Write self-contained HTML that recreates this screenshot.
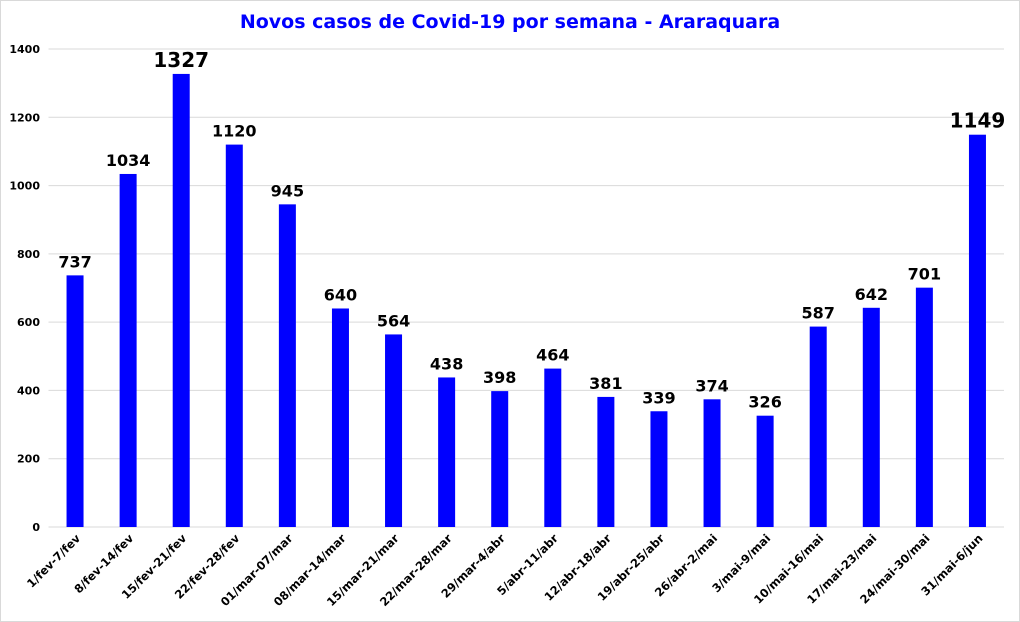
<!DOCTYPE html>
<html><head><meta charset="utf-8"><style>
html,body{margin:0;padding:0;background:#fff}
svg{display:block;font-family:"DejaVu Sans","Liberation Sans",sans-serif}
</style></head><body>
<svg id="chart" width="1020" height="622">
<rect x="0.5" y="0.5" width="1019" height="621" fill="#fff" stroke="#d9d9d9"/>
<text x="510" y="28" text-anchor="middle" font-size="19" font-weight="bold" fill="#0000ff">Novos casos de Covid-19 por semana - Araraquara</text>
<g id="grid"></g><g id="bars"></g><g id="xlabels"></g>
</svg>
<script>
const categories=["1/fev-7/fev","8/fev-14/fev","15/fev-21/fev","22/fev-28/fev","01/mar-07/mar","08/mar-14/mar","15/mar-21/mar","22/mar-28/mar","29/mar-4/abr","5/abr-11/abr","12/abr-18/abr","19/abr-25/abr","26/abr-2/mai","3/mai-9/mai","10/mai-16/mai","17/mai-23/mai","24/mai-30/mai","31/mai-6/jun"];
const values=[737,1034,1327,1120,945,640,564,438,398,464,381,339,374,326,587,642,701,1149];
const yTicks=[0,200,400,600,800,1000,1200,1400];
const highlighted=[1327,1149];
const NS="http://www.w3.org/2000/svg";
const x0=48.5,x1=1004,y0=527,yTop=49,yMax=1400;
const bw=(x1-x0)/categories.length;
const yS=v=>y0-(v/yMax)*(y0-yTop);
const xC=i=>x0+bw*(i+0.5);
function mk(t,a,p){const e=document.createElementNS(NS,t);for(const k in a)e.setAttribute(k,a[k]);p.appendChild(e);return e;}
const grid=document.getElementById('grid');
yTicks.forEach(t=>{
 const l=mk('line',{x1:x0,x2:x1,y1:yS(t),y2:yS(t),stroke:'#d9d9d9','stroke-width':1},grid);
 
 
 const tx=mk('text',{x:40,y:yS(t)+4,'text-anchor':'end','font-size':11,'font-weight':'bold',fill:'#000'},grid);
 tx.textContent=t;
 
 
});
const bars=document.getElementById('bars'),xl=document.getElementById('xlabels');
values.forEach((v,i)=>{
 const cx=xC(i);
 const r=mk('rect',{x:cx-8.5,y:yS(v),width:17,height:y0-yS(v),fill:'#0000ff'},bars);
 
 
 const big=highlighted.includes(v);
 const t=mk('text',{x:cx,y:yS(v)-(big?7:8),'text-anchor':'middle','font-size':big?20:16,'font-weight':'bold',fill:'#000'},bars);
 t.textContent=v;
 
 
 const lx=cx+6,ly=y0+12;
 const c=mk('text',{x:lx,y:ly,'text-anchor':'end','font-size':11.5,'font-weight':'bold',fill:'#000',transform:`rotate(-45 ${lx} ${ly})`},xl);
 c.textContent=categories[i];
 
 
});
</script>
</body></html>
